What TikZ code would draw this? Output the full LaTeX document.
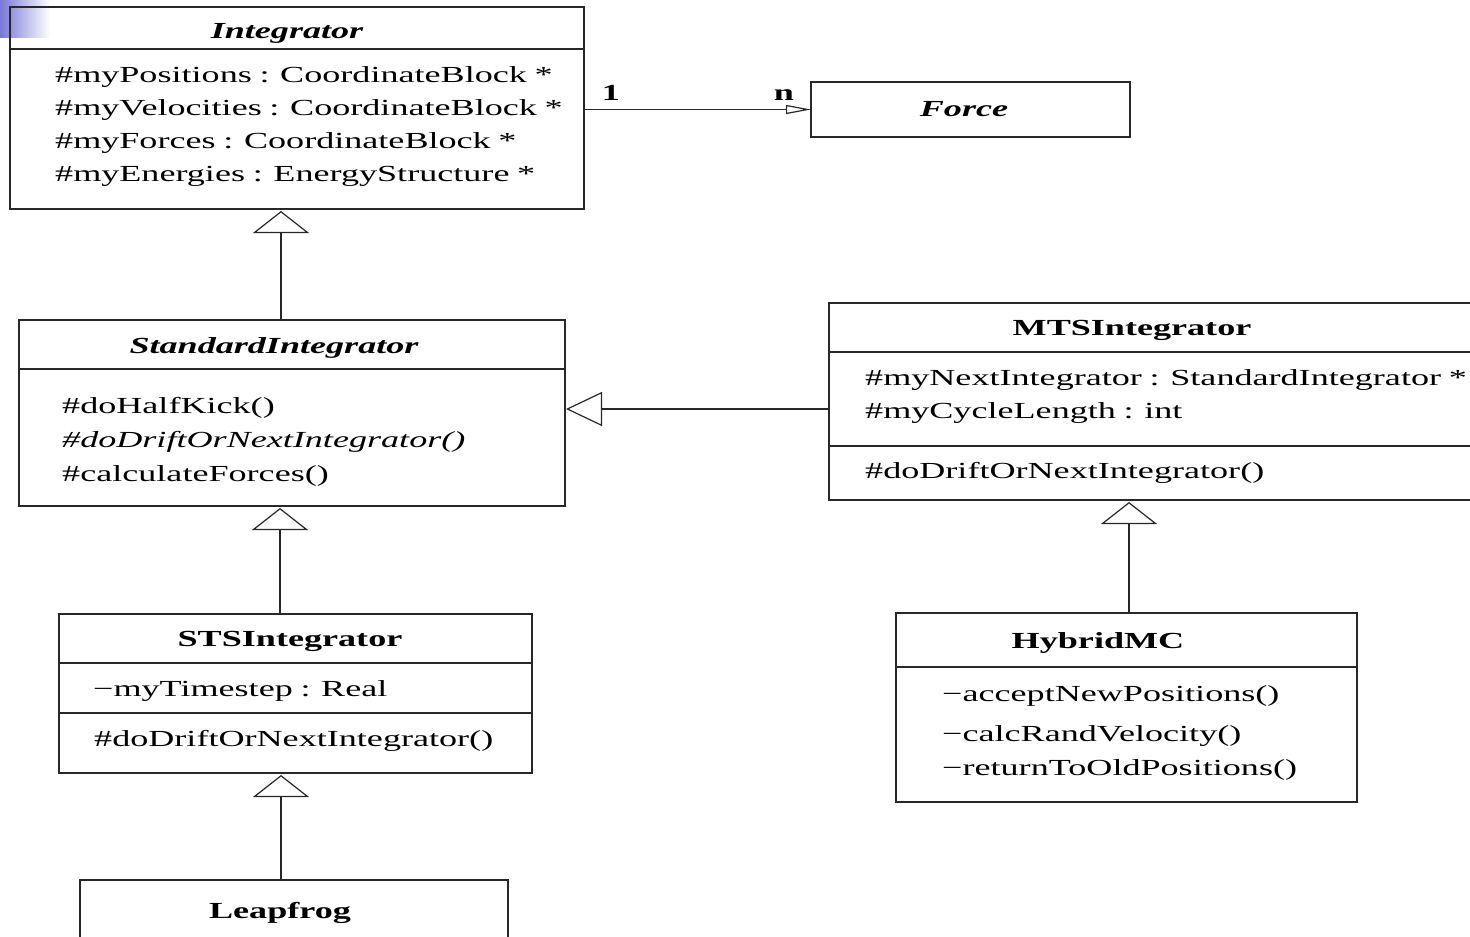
\documentclass[tikz,border=0pt]{standalone}
\usepackage{fontspec}
\setmainfont[FakeStretch=1.57, WordSpace=0.85]{Liberation Serif}
\usetikzlibrary{arrows.meta,calc}
\definecolor{linec}{RGB}{40,40,40}
\definecolor{cornerblue}{RGB}{120,120,214}
\begin{document}
\begin{tikzpicture}[x=1pt,y=-1pt,
  box/.style={draw=linec, line width=1.2pt, rectangle, inner sep=0pt, outer sep=0pt},
  div/.style={draw=linec, line width=1.2pt},
  txt/.style={anchor=base west, inner sep=0pt, font=\fontsize{23}{27}\selectfont},
  ttl/.style={anchor=base, inner sep=0pt, font=\fontsize{23}{27}\selectfont\bfseries},
  ittl/.style={anchor=base, inner sep=0pt, font=\fontsize{23}{27}\selectfont\bfseries\itshape},
  lbl/.style={anchor=base, inner sep=0pt, font=\fontsize{23}{27}\selectfont\bfseries},
  inherit/.style={draw=linec, line width=1.2pt, -{Triangle[open, length=22pt, width=56pt, line width=1.2pt]}, shorten >=2pt},
  inheritH/.style={draw=linec, line width=1.2pt, -{Triangle[open, length=36pt, width=34pt, line width=1.2pt]}, shorten >=1pt},
  assoc/.style={draw=linec, line width=1.2pt, -{Triangle[open, length=25pt, width=9pt, line width=1.2pt]}}
]
\clip (0,0) rectangle (1470,937);
\fill[white] (0,0) rectangle (1470,937);
\shade[left color=cornerblue, right color=white] (0,0) rectangle (50,37);

% Integrator
\node[box, minimum width=574pt, minimum height=202pt] (integ) at (297,108) {};
\draw[div] (integ.west |- 0,49) -- (integ.east |- 0,49);
\node[ittl] (integT) at (287,38) {Integrator};
\node[txt] (integA1) at (55,82) {\#myPositions : CoordinateBlock *};
\node[txt] (integA2) at (55,115) {\#myVelocities : CoordinateBlock *};
\node[txt] (integA3) at (55,148) {\#myForces : CoordinateBlock *};
\node[txt] (integA4) at (55,181) {\#myEnergies : EnergyStructure *};

% Force
\node[box, minimum width=319pt, minimum height=55pt] (force) at (970.5,109.5) {};
\node[ittl] (forceT) at (964,116) {Force};

% StandardIntegrator
\node[box, minimum width=546pt, minimum height=186pt] (std) at (292,413) {};
\draw[div] (std.west |- 0,369) -- (std.east |- 0,369);
\node[ittl] (stdT) at (274,353) {StandardIntegrator};
\node[txt] (stdM1) at (62,413) {\#doHalfKick()};
\node[txt, font=\fontsize{23}{27}\selectfont\itshape] (stdM2) at (62,447) {\#doDriftOrNextIntegrator()};
\node[txt] (stdM3) at (62,481) {\#calculateForces()};

% MTSIntegrator
\node[box, minimum width=651pt, minimum height=197pt] (mts) at (1154.5,401.5) {};
\draw[div] (mts.west |- 0,352) -- (mts.east |- 0,352);
\draw[div] (mts.west |- 0,446) -- (mts.east |- 0,446);
\node[ttl] (mtsT) at (1132,335) {MTSIntegrator};
\node[txt] (mtsA1) at (865,385) {\#myNextIntegrator : StandardIntegrator *};
\node[txt] (mtsA2) at (865,418) {\#myCycleLength : int};
\node[txt] (mtsM1) at (865,478) {\#doDriftOrNextIntegrator()};

% HybridMC
\node[box, minimum width=461pt, minimum height=189pt] (hyb) at (1126.5,707.5) {};
\draw[div] (hyb.west |- 0,667) -- (hyb.east |- 0,667);
\node[ttl] (hybT) at (1098,648) {HybridMC};
\node[txt] (hybM1) at (942,701) {−acceptNewPositions()};
\node[txt] (hybM2) at (942,741) {−calcRandVelocity()};
\node[txt] (hybM3) at (942,775) {−returnToOldPositions()};

% STSIntegrator
\node[box, minimum width=473pt, minimum height=159pt] (sts) at (295.5,693.5) {};
\draw[div] (sts.west |- 0,663) -- (sts.east |- 0,663);
\draw[div] (sts.west |- 0,713) -- (sts.east |- 0,713);
\node[ttl] (stsT) at (290,646) {STSIntegrator};
\node[txt] (stsA1) at (93,696) {−myTimestep : Real};
\node[txt] (stsM1) at (94,746) {\#doDriftOrNextIntegrator()};

% Leapfrog
\node[box, minimum width=428pt, minimum height=70pt] (leap) at (294,915) {};
\node[ttl] (leapT) at (280,918) {Leapfrog};

% association
\draw[assoc] (integ.east |- force.west) -- (force.west);
\node[lbl] (one) at (611,100) {1};
\node[lbl] (nn) at (784,100) {n};

% inheritance
\draw[inherit] (std.north -| 281,0) -- (integ.south -| 281,0);
\draw[inherit] (sts.north -| 280,0) -- (std.south -| 280,0);
\draw[inherit] (leap.north -| 281,0) -- (sts.south -| 281,0);
\draw[inherit] (hyb.north -| 1129,0) -- (mts.south -| 1129,0);
\draw[inheritH] (mts.west |- 0,409) -- (std.east |- 0,409);
\end{tikzpicture}
\end{document}
